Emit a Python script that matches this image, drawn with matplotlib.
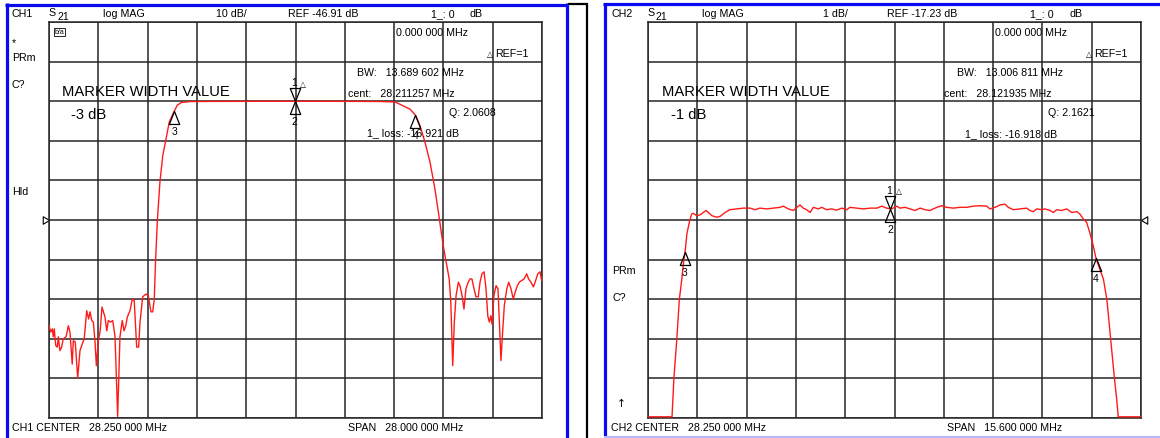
import matplotlib
matplotlib.use('Agg')
import matplotlib.pyplot as plt
from matplotlib.path import Path
from matplotlib.lines import Line2D
import numpy as np

plt.rcParams['font.family'] = ['Liberation Sans', 'DejaVu Sans']

# ---------------- data ----------------
ch1_center, ch1_span, ch1_ref, ch1_scale = 28.25, 28.0, -46.91, 10.0
ch2_center, ch2_span, ch2_ref, ch2_scale = 28.25, 15.6, -17.23, 1.0

ch1_freq = [14.25, 14.35, 14.44, 14.49, 14.55, 14.63, 14.72, 14.78, 14.87, 14.97,
            15.06, 15.22, 15.35, 15.44, 15.57, 15.63, 15.74, 15.88, 16.01, 16.14,
            16.25, 16.39, 16.50, 16.58, 16.68, 16.77, 16.86, 16.94, 17.05, 17.15,
            17.26, 17.43, 17.53, 17.62, 17.75, 17.87, 18.00, 18.15, 18.28, 18.41,
            18.51, 18.61, 18.70, 18.85, 18.98, 19.09, 19.23, 19.34, 19.42, 19.57,
            19.76, 19.89, 20.04, 20.14, 20.23, 20.30, 20.40, 20.55, 20.71, 20.90,
            21.08, 21.31, 21.54, 21.79, 22.30, 23.50, 25.00, 26.50, 28.25, 30.00,
            31.50, 33.00, 33.90, 34.75, 35.09, 35.32, 35.60, 35.89, 36.17, 36.42,
            36.64, 36.84, 36.98, 37.07, 37.18, 37.27, 37.37, 37.50, 37.59, 37.71,
            37.82, 37.93, 38.06, 38.16, 38.27, 38.39, 38.50, 38.63, 38.73, 38.84,
            38.96, 39.07, 39.17, 39.26, 39.34, 39.41, 39.52, 39.64, 39.75, 39.86,
            39.92, 39.99, 40.11, 40.25, 40.36, 40.49, 40.62, 40.73, 40.85, 40.96,
            41.10, 41.23, 41.38, 41.49, 41.62, 41.76, 41.89, 42.01, 42.14, 42.23]
ch1_db = [-73.6, -75.2, -74.4, -76.4, -74.4, -78.6, -79.0, -76.4, -79.9, -79.0,
          -76.9, -76.4, -73.6, -75.2, -83.3, -77.4, -77.7, -86.8, -79.9, -78.2,
          -76.9, -69.8, -71.9, -70.1, -72.3, -72.7, -77.4, -83.7, -77.4, -75.2,
          -68.9, -71.4, -74.9, -72.3, -72.7, -72.3, -76.4, -96.5, -76.4, -72.3,
          -74.9, -73.6, -71.4, -69.8, -66.9, -67.3, -79.0, -79.0, -72.7, -66.3,
          -65.6, -66.0, -70.1, -70.1, -66.9, -57.5, -47.4, -37.3, -30.7, -26.4,
          -22.2, -19.9, -17.9, -17.2, -17.0, -16.96, -16.94, -16.93, -16.92, -16.93,
          -16.95, -16.98, -17.1, -18.9, -20.6, -23.1, -27.2, -32.3, -39.1, -46.6,
          -53.4, -58.4, -61.8, -67.6, -83.7, -72.7, -66.0, -62.6, -63.5, -66.0,
          -69.4, -64.3, -62.6, -61.8, -61.8, -64.3, -66.3, -66.3, -62.6, -60.5,
          -60.0, -64.3, -71.1, -72.7, -71.1, -73.2, -66.0, -63.5, -64.3, -76.1,
          -82.4, -76.9, -68.5, -64.3, -62.6, -64.3, -66.9, -65.1, -63.5, -62.6,
          -62.2, -61.8, -60.5, -61.8, -62.6, -63.8, -62.2, -60.5, -60.0, -62.2]

ch2_freq = [20.45, 21.21, 21.27, 21.36, 21.44, 21.52, 21.57, 21.64, 21.68, 21.76,
            21.83, 21.88, 21.99, 22.10, 22.20, 22.29, 22.36, 22.47, 22.62, 22.73,
            22.89, 23.04, 23.26, 23.47, 23.68, 23.84, 23.99, 24.21, 24.42, 24.63,
            24.73, 24.89, 25.05, 25.16, 25.26, 25.36, 25.47, 25.58, 25.68, 25.84,
            25.95, 26.10, 26.26, 26.42, 26.58, 26.74, 26.84, 27.05, 27.26, 27.48,
            27.69, 27.85, 28.00, 28.16, 28.32, 28.42, 28.58, 28.74, 28.90, 29.06,
            29.22, 29.37, 29.59, 29.74, 29.90, 30.11, 30.32, 30.54, 30.74, 30.96,
            31.17, 31.27, 31.43, 31.59, 31.75, 31.85, 32.01, 32.22, 32.43, 32.54,
            32.64, 32.75, 32.91, 33.01, 33.17, 33.28, 33.38, 33.54, 33.70, 33.86,
            34.02, 34.12, 34.22, 34.33, 34.44, 34.54, 34.63, 34.86, 34.97, 35.03,
            35.09, 35.15, 35.21, 35.28, 35.33, 36.05]
ch2_db = [-22.2, -22.2, -21.22, -20.26, -19.25, -18.72, -18.34, -17.91, -17.58, -17.28,
          -17.08, -17.06, -17.12, -17.10, -17.04, -16.99, -17.04, -17.12, -17.16, -17.14,
          -17.04, -16.97, -16.95, -16.93, -16.93, -16.97, -16.93, -16.95, -16.93, -16.91,
          -16.88, -16.95, -16.99, -16.91, -16.85, -16.93, -16.97, -17.04, -16.91, -16.95,
          -16.91, -16.97, -16.95, -16.98, -16.93, -16.97, -16.91, -16.93, -16.95, -16.93,
          -16.93, -16.88, -16.93, -16.95, -16.88, -16.93, -16.91, -16.95, -16.99, -16.93,
          -16.97, -16.99, -16.91, -16.87, -16.91, -16.93, -16.91, -16.91, -16.88, -16.87,
          -16.88, -16.95, -16.91, -16.85, -16.83, -16.91, -16.97, -16.95, -16.93, -16.99,
          -17.02, -16.95, -16.97, -16.95, -16.99, -17.04, -16.97, -16.99, -16.95, -17.04,
          -17.02, -17.08, -17.20, -17.29, -17.58, -17.88, -18.21, -18.72, -19.24, -19.73,
          -20.24, -20.74, -21.23, -21.75, -22.2, -22.2]

# markers: (label, frequency) ; 1 & 2 at centre, 3 & 4 at band edges
ch1_markers = [("1", 28.211257), ("2", 28.211257), ("3", 21.366456), ("4", 35.056058)]
ch2_markers = [("1", 28.121935), ("2", 28.121935), ("3", 21.618530), ("4", 34.625341)]

# ---------------- figure ----------------
W, H = 1160, 439
fig = plt.figure(figsize=(11.6, 4.39), dpi=100)
fig.patch.set_facecolor('white')


def fx(x):
    return x / W


def fy(y):
    return 1 - y / H


def T(x, y, s, size=7.7, **kw):
    fig.text(fx(x), fy(y), s, fontsize=size, va='center', ha='left', color='black', **kw)


def panel(l, t, r, b, center, span, ref, scale):
    ax = fig.add_axes([fx(l), fy(b), (r - l) / W, (b - t) / H])
    fmin, fmax = center - span / 2, center + span / 2
    ymin, ymax = ref - 5 * scale, ref + 5 * scale
    ax.set_xlim(fmin, fmax)
    ax.set_ylim(ymin, ymax)
    ax.set_xticks(np.linspace(fmin, fmax, 11))
    ax.set_yticks(np.linspace(ymin, ymax, 11))
    ax.tick_params(length=0, labelbottom=False, labelleft=False)
    ax.grid(True, color='#262626', lw=1.1)
    for s in ax.spines.values():
        s.set_color('#262626')
        s.set_linewidth(1.1)
    ax.set_facecolor('none')
    return ax, fmin, fmax


tri_up = Path([(0, 0), (-0.4, -1), (0.4, -1), (0, 0)],
              [Path.MOVETO, Path.LINETO, Path.LINETO, Path.CLOSEPOLY])
tri_down = Path([(0, 0), (-0.4, 1), (0.4, 1), (0, 0)],
                [Path.MOVETO, Path.LINETO, Path.LINETO, Path.CLOSEPOLY])
ref_right = Path([(0, 0), (-1, 0.6), (-1, -0.6), (0, 0)],
                 [Path.MOVETO, Path.LINETO, Path.LINETO, Path.CLOSEPOLY])
ref_left = Path([(0, 0), (1, 0.6), (1, -0.6), (0, 0)],
                [Path.MOVETO, Path.LINETO, Path.LINETO, Path.CLOSEPOLY])


def draw_channel(l, t, r, b, center, span, ref, scale, freq, db, markers, ref_side):
    ax, fmin, fmax = panel(l, t, r, b, center, span, ref, scale)
    ax.plot(freq, db, color='#ff1a1a', lw=1.0, zorder=3)
    for lab, f in markers:
        v = np.interp(f, freq, db)
        if lab == "1":
            ax.plot([f], [v], marker=tri_down, ms=18.7, mfc='none', mec='black',
                    mew=0.9, zorder=4)
            ax.annotate("1", (f, v), xytext=(-1, 19), textcoords='offset pixels',
                        ha='center', va='center', fontsize=7.5)
            ax.annotate("\u25b3", (f, v), xytext=(8, 18), textcoords='offset pixels',
                        ha='center', va='center', fontsize=5.5,
                        family=['DejaVu Sans'])
        else:
            ax.plot([f], [v], marker=tri_up, ms=18.7, mfc='none', mec='black',
                    mew=0.9, zorder=4)
            ax.annotate(lab, (f, v), xytext=(0, -20), textcoords='offset pixels',
                        ha='center', va='center', fontsize=7.5)
    if ref_side == 'left':
        ax.plot([fmin], [ref], marker=ref_right, ms=9, mfc='none', mec='black',
                mew=0.8, clip_on=False)
    else:
        ax.plot([fmax], [ref], marker=ref_left, ms=9, mfc='none', mec='black',
                mew=0.8, clip_on=False)
    return ax


draw_channel(49, 23, 542, 419, ch1_center, ch1_span, ch1_ref, ch1_scale,
             ch1_freq, ch1_db, ch1_markers, 'left')
draw_channel(648, 23, 1141, 419, ch2_center, ch2_span, ch2_ref, ch2_scale,
             ch2_freq, ch2_db, ch2_markers, 'right')


# ---------------- frames ----------------
def L(x0, y0, x1, y1, color, lw):
    fig.add_artist(Line2D([fx(x0), fx(x1)], [fy(y0), fy(y1)], color=color, lw=lw,
                          transform=fig.transFigure, solid_capstyle='butt'))


blue = '#0a0af0'
L(6.5, 4, 6.5, 439, blue, 2.3)
L(5, 5.5, 568, 5.5, blue, 2.3)
L(566.5, 4, 566.5, 439, blue, 2.3)
L(568, 5, 588, 5, 'black', 1.6)
L(587, 4, 587, 439, 'black', 1.6)
L(604.5, 4, 604.5, 437, blue, 2.3)
L(603, 5, 1160, 5, blue, 2.3)
L(604, 437.5, 1160, 437.5, '#b8b8ff', 1.5)

# ---------------- texts ----------------
for (x0, ch, scl, ref) in [(0, "CH1", "10 dB/", "REF -46.91 dB"),
                           (599, "CH2", "1 dB/", "REF -17.23 dB")]:
    T(12 + x0, 14, ch)
    T(48 + x0, 13, "S")
    T(57 + x0, 17, "21")
    T(103 + x0, 14, "log MAG")
    T((216 if ch == "CH1" else 224) + x0, 14, scl)
    T(288 + x0, 14, ref)
    T(431 + x0, 14, "1_: 0")
    T(470 + x0, 14, "dB")
    T(396 + x0, 33, "0.000 000 MHz")
    T(487 + x0, 54, "\u25b3", size=5.5, family=['DejaVu Sans'])
    T(495 + x0, 54, "REF=1")

fig.text(fx(55), fy(33), "b/a", fontsize=5, va='center', ha='left',
         bbox=dict(boxstyle='square,pad=0.1', fc='white', ec='black', lw=0.6))
T(12, 43, "*")
T(12, 58, "PRm")
T(12, 85, "C?")
T(12, 192, "Hld")

T(357, 73, "BW:   13.689 602 MHz")
T(348, 94, "cent:   28.211257 MHz")
T(449, 113, "Q: 2.0608")
T(367, 133, "1_ loss: -16.921 dB")
T(62, 92, "MARKER WIDTH VALUE", size=10.6)
T(71, 115, "-3 dB", size=10.6)

T(957, 73, "BW:   13.006 811 MHz")
T(944, 94, "cent:   28.121935 MHz")
T(1048, 113, "Q: 2.1621")
T(965, 134, "1_ loss: -16.918 dB")
T(662, 92, "MARKER WIDTH VALUE", size=10.6)
T(671, 115, "-1 dB", size=10.6)

T(612, 271, "PRm")
T(612, 298, "C?")
T(617, 404, "\u2191", family=['DejaVu Sans'])

T(12, 428, "CH1 CENTER   28.250 000 MHz")
T(348, 428, "SPAN   28.000 000 MHz")
T(611, 428, "CH2 CENTER   28.250 000 MHz")
T(947, 428, "SPAN   15.600 000 MHz")

fig.savefig("out.png", dpi=100, facecolor='white')
